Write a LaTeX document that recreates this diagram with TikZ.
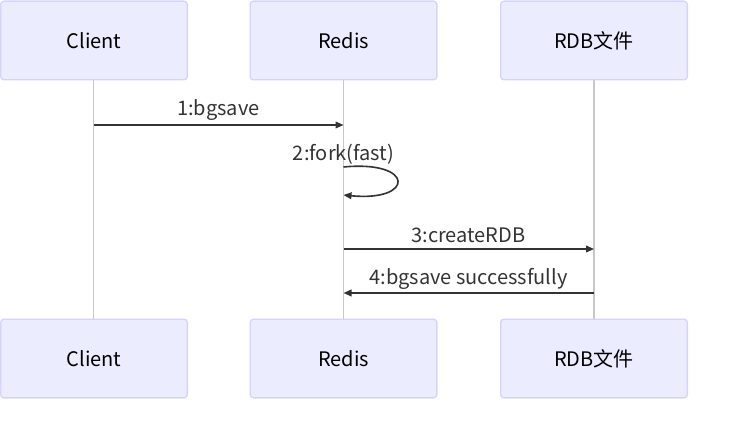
\documentclass[tikz,border=0pt]{standalone}
\usepackage{fontspec}
\setmainfont{Noto Sans CJK SC}
\usetikzlibrary{arrows.meta}

\definecolor{actorfill}{HTML}{ECECFF}
\definecolor{actorline}{HTML}{D4D4FA}
\definecolor{lifeline}{HTML}{C8C8C8}
\definecolor{msgline}{HTML}{333333}

\tikzset{
  actor/.style={draw=actorline,fill=actorfill,line width=1pt,rounded corners=2.5pt,
    minimum width=140pt,minimum height=59pt,font=\fontsize{15}{17}\selectfont,text=black},
  msg/.style={draw=msgline,line width=1.2pt,-{Triangle[length=6pt,width=5pt]}},
  msglabel/.style={font=\fontsize{15}{17}\selectfont,text=msgline,inner sep=1pt}
}

\begin{document}
\begin{tikzpicture}[x=0.75pt,y=-0.75pt]
    \useasboundingbox (0,0) rectangle (748,431);

    % lifelines
    \coordinate (clientline) at (93.5,80);
    \coordinate (redisline) at (343.5,80);
    \coordinate (rdbline) at (594,80);
    \draw[lifeline,line width=0.9pt] (93.5,80) -- (93.5,319);
    \draw[lifeline,line width=0.9pt] (343.5,80) -- (343.5,319);
    \draw[lifeline,line width=0.9pt] (594,80) -- (594,319);

    % actors
    \node[actor] (clienttop) at (94,40.5) {Client};
    \node[actor] (redistop) at (343.5,40.5) {Redis};
    \node[actor] (rdbtop) at (594,40.5) {RDB文件};
    \node[actor] (clientbot) at (94,358.5) {Client};
    \node[actor] (redisbot) at (343.5,358.5) {Redis};
    \node[actor] (rdbbot) at (594,358.5) {RDB文件};

    % messages
    \coordinate (m1a) at (93.5,125);
    \coordinate (m1b) at (343.5,125);
    \draw[msg] (m1a) -- (m1b);
    \node[msglabel] (bgsavelabel) at (218.5,110) {1:bgsave};

    \coordinate (m2a) at (343.5,167);
    \coordinate (m2b) at (343.5,195);
    \node[msglabel] (forklabel) at (343.5,154) {2:fork(fast)};
    \draw[msg] (m2a) .. controls (415,160) and (415,202) .. (m2b);

    \coordinate (m3a) at (343.5,249);
    \coordinate (m3b) at (594,249);
    \draw[msg] (m3a) -- (m3b);
    \node[msglabel] (createlabel) at (468.5,235) {3:createRDB};

    \coordinate (m4a) at (594,293);
    \coordinate (m4b) at (343.5,293);
    \draw[msg] (m4a) -- (m4b);
    \node[msglabel] (donelabel) at (468.5,279) {4:bgsave successfully};
\end{tikzpicture}
\end{document}
